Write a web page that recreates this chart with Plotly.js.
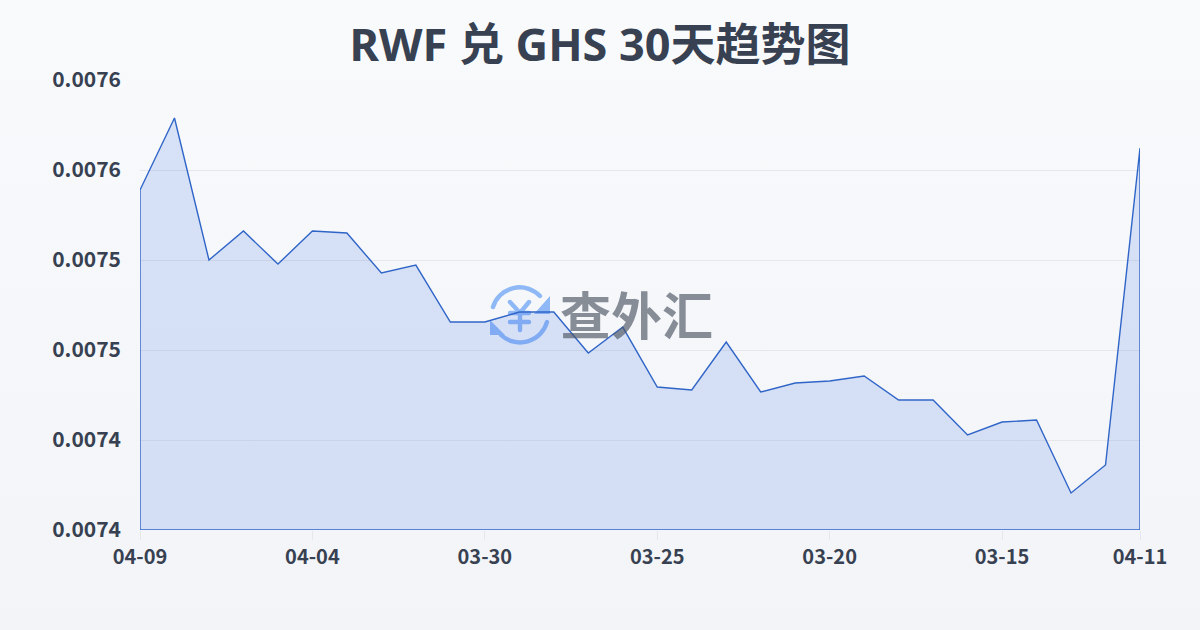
<!DOCTYPE html>
<html><head><meta charset="utf-8">
<script src="https://cdn.plot.ly/plotly-3.0.1.min.js"></script>
<style>
html,body{margin:0;padding:0;width:1200px;height:630px;overflow:hidden;background:linear-gradient(180deg,#f8fafc 0%,#f2f4f7 100%);}
#c{width:1200px;height:630px;}
</style></head><body><div id="c"></div>
<script>
const dates=["04-09","04-08","04-07","04-06","04-05","04-04","04-03","04-02","04-01","03-31","03-30","03-29","03-28","03-27","03-26","03-25","03-24","03-23","03-22","03-21","03-20","03-19","03-18","03-17","03-16","03-15","03-14","03-13","03-12","04-11"];
const rates=[0.00755111,0.00758311,0.00752,0.00753289,0.00751822,0.00753289,0.007532,0.00751422,0.00751778,0.00749244,0.00749244,0.00749689,0.00749689,0.00747867,0.00749022,0.00746356,0.00746222,0.00748356,0.00746133,0.00746533,0.00746622,0.00746844,0.00745778,0.00745778,0.00744222,0.007448,0.00744889,0.00741644,0.00742889,0.00756978];
const tickDates=["04-09","04-04","03-30","03-25","03-20","03-15","04-11"];
const yTicks=[0.0074,0.00744,0.00748,0.00752,0.00756,0.0076];
const yLabels=["0.0074","0.0074","0.0075","0.0075","0.0076","0.0076"];
const baseValue=0.0074;
const titleText="RWF 兑 GHS 30天趋势图";
const watermark="查外汇";
const FONT='"Noto Sans","Noto Sans CJK SC",sans-serif';
const TICKFONT='"Noto Sans CJK SC",sans-serif';
const logo='<svg xmlns="http://www.w3.org/2000/svg" viewBox="0 0 60 60"><g fill="none" stroke="#8fb8f6" stroke-linecap="round"><path stroke-width="4.4" d="M3 22A28 28 0 0 1 50 11"/><path stroke-width="4.4" d="M57 37A28 28 0 0 1 11 50"/><path stroke-width="4.4" d="M20 17L30 28L39 17M20 28H39M20 37H39M30 28V45"/></g><path d="M60 11V29H44Z M0 35V50H15Z" fill="#8fb8f6"/></svg>';
const xs=[dates[0],...dates,dates[dates.length-1],dates[0]];
const ys=[baseValue,...rates,baseValue,baseValue];
Plotly.newPlot('c',[{
  type:'scatter',mode:'lines',x:xs,y:ys,fill:'toself',cliponaxis:false,
  line:{color:'#3065c8',width:1.4,shape:'linear'},
  fillgradient:{type:'vertical',colorscale:[[0,'rgba(59,110,225,0.17)'],[1,'rgba(59,110,225,0.17)']]},
  hoverinfo:'skip'
}],{
  width:1200,height:630,paper_bgcolor:'rgba(0,0,0,0)',plot_bgcolor:'rgba(0,0,0,0)',
  margin:{l:140,r:59.5,t:80,b:100},showlegend:false,
  title:{text:titleText,x:0.5,xanchor:'center',y:0.928,yanchor:'middle',font:{family:FONT,size:45,color:'#374151',weight:700}},
  xaxis:{type:'category',categoryorder:'array',categoryarray:dates,range:[0,29],tickmode:'array',tickvals:tickDates,ticktext:tickDates,
    showgrid:false,zeroline:false,showline:false,ticks:'outside',ticklen:9,tickwidth:1,tickcolor:'#e5e7eb',
    tickfont:{family:TICKFONT,size:20,color:'#374151',weight:700}},
  yaxis:{range:[baseValue,0.00760002],tickmode:'array',tickvals:yTicks,ticktext:yLabels,showgrid:true,gridcolor:'#e5e7eb',gridwidth:1,zeroline:false,showline:false,ticks:'',ticklabelstandoff:18,
    tickfont:{family:TICKFONT,size:21,color:'#374151',weight:700}},
  images:[{source:'data:image/svg+xml;utf8,'+encodeURIComponent(logo),xref:'paper',yref:'paper',x:(490-140)/1000,y:1-(285-80)/450,sizex:60/1000,sizey:60/450,xanchor:'left',yanchor:'top',layer:'below',sizing:'stretch'}],
  annotations:[{text:watermark,xref:'paper',yref:'paper',x:(636-140)/1000,y:1-(313-80)/450,xanchor:'center',yanchor:'middle',showarrow:false,font:{family:TICKFONT,size:51,color:'rgba(75,85,99,0.65)',weight:700}}]
},{displayModeBar:false,staticPlot:true});
</script></body></html>
